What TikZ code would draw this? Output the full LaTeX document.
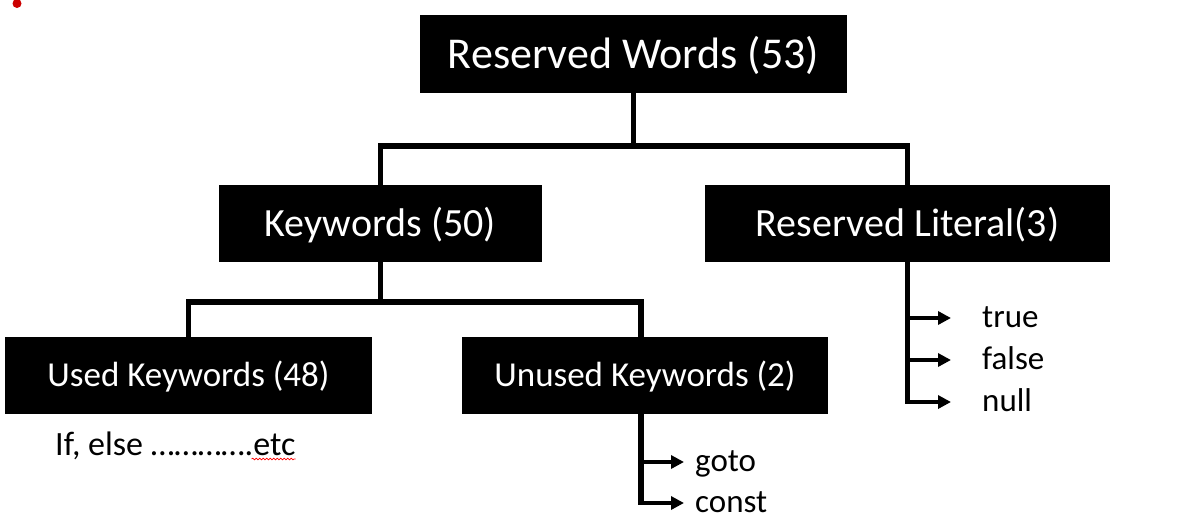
\documentclass[tikz,border=0pt]{standalone}
\usepackage{fontspec}
\setmainfont{Carlito}
\usetikzlibrary{arrows.meta,decorations.pathmorphing}
\definecolor{dotred}{RGB}{204,0,0}
\begin{document}
\begin{tikzpicture}[x=1pt,y=-1pt,
  box/.style={fill=black,text=white,inner sep=0pt,anchor=center,text depth=0pt},
  conn/.style={line width=5.5pt,line join=miter},
  arr/.style={line width=4.5pt,-{Triangle[length=13pt,width=13pt]}},
  item/.style={anchor=west,inner sep=0pt,text height=19pt,text depth=0pt,font=\fontsize{33}{40}\selectfont}]
\useasboundingbox (0,0) rectangle (1178,525);
\fill[dotred] (17,3.5) circle (4.5);
\node[box,minimum width=427pt,minimum height=78pt,text height=28pt,font=\fontsize{44}{52}\selectfont] (rw) at (633.5,54) {Reserved Words (53)};
\node[box,minimum width=323pt,minimum height=77pt,text height=25pt,font=\fontsize{40}{48}\selectfont] (kw) at (380.5,223.5) {Keywords (50)};
\node[box,minimum width=405pt,minimum height=77pt,text height=25pt,font=\fontsize{40}{48}\selectfont] (rl) at (907.5,223.5) {Reserved Literal(3)};
\node[box,minimum width=367pt,minimum height=77pt,text height=21pt,font=\fontsize{35}{42}\selectfont] (uk) at (188.5,375.5) {Used Keywords (48)};
\node[box,minimum width=366pt,minimum height=77pt,text height=21pt,font=\fontsize{35}{42}\selectfont] (unk) at (645,375.5) {Unused Keywords (2)};
% top tree
\coordinate (j1) at (630,146);
\draw[conn] (rw.south) -- (rw.south |- j1);
\draw[conn] (kw.north) -- (kw.north |- j1) -- (rl.north |- j1) -- (rl.north);
% keywords tree
\coordinate (j2) at (380,302);
\draw[conn] (kw.south) -- (kw.south |- j2);
\draw[conn] (uk.north) -- (uk.north |- j2) -- ([xshift=-4pt]unk.north |- j2) -- ([xshift=-4pt]unk.north);
% literals
\node[item] (tru) at (982,318) {true};
\node[item] (fal) at (982,360) {false};
\node[item] (nul) at (982,402) {null};
\draw[conn] (rl.south) -- ([yshift=-2.25pt]rl.south |- nul.west);
\foreach \n in {tru,fal,nul}
  \draw[arr] (rl.south |- \n.west) -- ([xshift=-31pt]\n.west);
% unused
\node[item] (got) at (695,462) {goto};
\node[item] (con) at (695,503) {const};
\draw[conn] ([xshift=-4pt]unk.south) -- ([xshift=-4pt,yshift=-2.25pt]unk.south |- con.west);
\foreach \n in {got,con}
  \draw[arr] ([xshift=-4pt]unk.south |- \n.west) -- ([xshift=-11pt]\n.west);
% used
\node[anchor=base west,inner sep=0pt,font=\fontsize{34}{40}\selectfont] (ie) at (55,455) {If, else ………….etc};
\draw[red,line width=0.7pt,decorate,decoration={snake,amplitude=0.8pt,segment length=3.5pt}]
  ([xshift=-44pt,yshift=-4pt]ie.base east) -- ([yshift=-4pt]ie.base east);
\end{tikzpicture}
\end{document}
